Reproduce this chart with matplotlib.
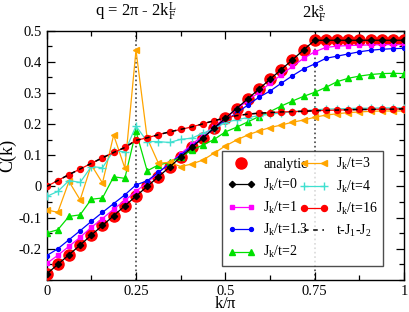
import numpy as np
import matplotlib
matplotlib.use("Agg")
import matplotlib.pyplot as plt
from matplotlib.legend_handler import HandlerLine2D

plt.rcParams['font.family'] = ['Liberation Serif', 'DejaVu Serif']
plt.rcParams['mathtext.fontset'] = 'custom'
plt.rcParams['mathtext.rm'] = 'Liberation Serif'
plt.rcParams['mathtext.it'] = 'Liberation Serif:italic'

k = np.arange(33) / 32.0

analytic = [-0.281, -0.250, -0.219, -0.188, -0.156, -0.125, -0.094, -0.062, -0.031,
            0.000, 0.031, 0.062, 0.094, 0.125, 0.156, 0.188, 0.219, 0.250, 0.281,
            0.312, 0.344, 0.375, 0.406, 0.438, 0.469, 0.469, 0.469, 0.469, 0.469,
            0.469, 0.469, 0.469, 0.469]
j0 = list(analytic)
j1 = [-0.247, -0.221, -0.192, -0.163, -0.131, -0.103, -0.073, -0.045, -0.016,
      0.013, 0.044, 0.074, 0.105, 0.135, 0.164, 0.194, 0.219, 0.248, 0.275,
      0.302, 0.331, 0.358, 0.385, 0.411, 0.432, 0.446, 0.450, 0.452, 0.453,
      0.454, 0.455, 0.455, 0.455]
j13 = [-0.222, -0.200, -0.171, -0.142, -0.112, -0.083, -0.055, -0.027, 0.005,
       0.018, 0.045, 0.073, 0.101, 0.129, 0.157, 0.186, 0.212, 0.235, 0.261,
       0.286, 0.306, 0.331, 0.355, 0.377, 0.393, 0.411, 0.418, 0.425, 0.432,
       0.437, 0.440, 0.442, 0.443]
j2 = [-0.149, -0.139, -0.096, -0.091, -0.041, -0.037, 0.031, 0.026, 0.177,
      0.050, 0.069, 0.077, 0.094, 0.117, 0.133, 0.151, 0.175, 0.190, 0.207,
      0.224, 0.240, 0.258, 0.274, 0.289, 0.302, 0.318, 0.336, 0.347, 0.354,
      0.359, 0.362, 0.363, 0.362]
j3 = [-0.075, -0.083, 0.016, -0.043, 0.069, 0.011, 0.165, 0.059, 0.437,
      0.155, 0.075, 0.077, 0.064, 0.072, 0.085, 0.107, 0.130, 0.149, 0.165,
      0.178, 0.189, 0.197, 0.206, 0.213, 0.222, 0.229, 0.233, 0.237, 0.239,
      0.241, 0.242, 0.242, 0.242]
j4 = [-0.032, -0.016, 0.019, 0.013, 0.064, 0.060, 0.115, 0.111, 0.194,
      0.144, 0.144, 0.141, 0.151, 0.155, 0.171, 0.185, 0.205, 0.214, 0.221,
      0.227, 0.232, 0.236, 0.240, 0.243, 0.246, 0.248, 0.249, 0.250, 0.251,
      0.251, 0.252, 0.252, 0.252]
j16 = [0.000, 0.019, 0.038, 0.056, 0.074, 0.092, 0.109, 0.125, 0.148,
       0.156, 0.166, 0.175, 0.183, 0.191, 0.201, 0.211, 0.220, 0.227, 0.232,
       0.235, 0.237, 0.239, 0.240, 0.241, 0.243, 0.244, 0.245, 0.246, 0.247,
       0.247, 0.248, 0.248, 0.249]
tj1j2 = list(j16)

fig = plt.figure(figsize=(4.09, 3.12), dpi=100)
ax = fig.add_axes([0.114, 0.1026, 0.874, 0.7994])

lw = 0.9
h_an, = ax.plot(k, analytic, 'o', color='red', ms=8, mec='red', label='analytic', zorder=3)
ax.plot(k, j0, '-D', color='black', ms=3.2, lw=lw, label=r'J$_\mathrm{k}$/t=0', zorder=4)
ax.plot(k, j1, '-s', color='magenta', ms=3.3, lw=lw, label=r'J$_\mathrm{k}$/t=1', zorder=3)
ax.plot(k, j13, '-o', color='blue', ms=2.8, lw=lw, label=r'J$_\mathrm{k}$/t=1.3', zorder=3)
ax.plot(k, j2, '-^', color='#00e000', ms=4.2, lw=lw, label=r'J$_\mathrm{k}$/t=2', zorder=3)
ax.plot(k, j3, '-<', color='orange', ms=4.2, lw=lw, label=r'J$_\mathrm{k}$/t=3', zorder=3)
ax.plot(k, j4, '-+', color='#40e0d0', ms=5.5, mew=1.0, lw=lw, label=r'J$_\mathrm{k}$/t=4', zorder=3)
ax.plot(k, j16, '-o', color='red', ms=4.3, lw=lw, label=r'J$_\mathrm{k}$/t=16', zorder=3)
ax.plot(k, tj1j2, '--', color='black', lw=1.1, dashes=(3, 3), label=r't-J$_1$-J$_2$', zorder=5)

ax.axvline(0.25, color='#444444', ls=':', lw=1.2, zorder=1)
ax.axvline(0.75, color='#444444', ls=':', lw=1.2, zorder=1)

ax.set_xlim(0, 1)
ax.set_ylim(-0.3, 0.5)
ax.set_xticks([0, 0.25, 0.5, 0.75, 1])
ax.set_xticklabels(['0', '0.25', '0.5', '0.75', '1'])
ax.set_xticks(np.arange(0, 1.01, 0.125), minor=True)
ax.set_yticks(np.arange(-0.2, 0.51, 0.1))
ax.set_yticklabels(['-0.2', '-0.1', '0', '0.1', '0.2', '0.3', '0.4', '0.5'])
ax.set_yticks(np.arange(-0.3, 0.51, 0.05), minor=True)
ax.tick_params(which='both', direction='in', top=True, right=True, labelsize=10.5, width=0.9)
ax.tick_params(which='major', length=6)
ax.tick_params(which='minor', length=3.5)
for s in ax.spines.values():
    s.set_linewidth(1.0)

ax.set_xlabel(r'k/$\mathrm{\pi}$', fontsize=12, labelpad=-1)
ax.set_ylabel('C(k)', fontsize=13, labelpad=2)

ax.text(0.25, 1.03, r'q = 2$\mathrm{\pi}$ - 2k$_\mathrm{F}^\mathrm{L}$', transform=ax.transAxes,
        ha='center', va='bottom', fontsize=12)
ax.text(0.75, 1.03, r'2k$_\mathrm{F}^\mathrm{s}$', transform=ax.transAxes,
        ha='center', va='bottom', fontsize=12)

leg = ax.legend(ncol=2, loc='lower left', bbox_to_anchor=(0.49, 0.056, 0.452, 0.437),
                mode='expand', fontsize=10, frameon=True, fancybox=False, edgecolor='#222222',
                numpoints=2, handlelength=2.0, handletextpad=0.6, borderaxespad=0,
                labelspacing=0.45, columnspacing=0.8,
                handler_map={h_an: HandlerLine2D(numpoints=1)})
leg.get_frame().set_linewidth(1.0)

fig.savefig('out.png', dpi=100)
